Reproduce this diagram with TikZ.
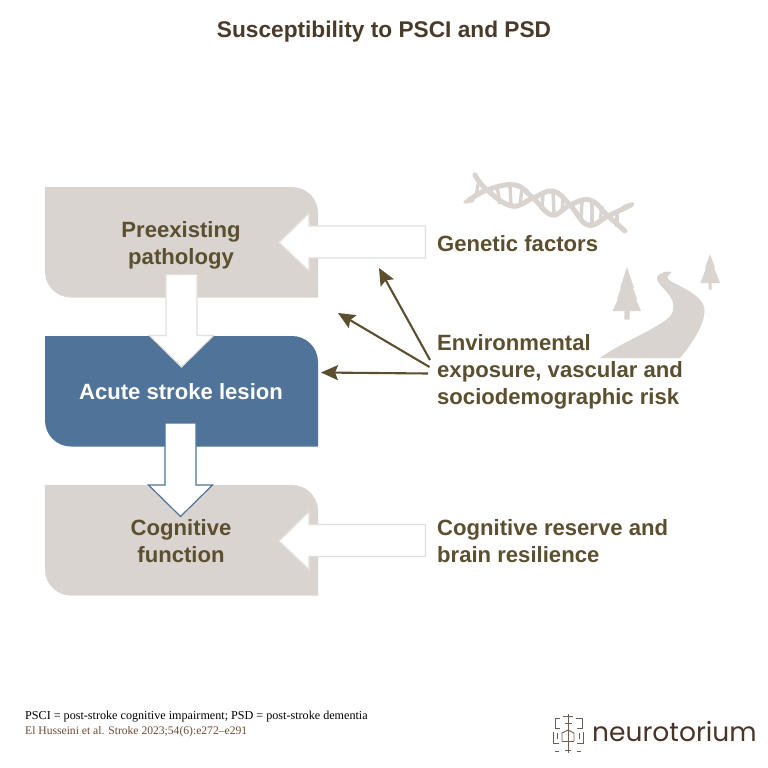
\documentclass[tikz,border=0pt]{standalone}
\usepackage{fontspec}
\setmainfont{Liberation Sans}
\newfontfamily\notefont{Liberation Serif}
\newfontfamily\brandfont{Poppins}
\usetikzlibrary{arrows.meta}
\definecolor{stone}{HTML}{D9D4CF}
\definecolor{stoneline}{HTML}{E3DFDB}
\definecolor{lesion}{HTML}{4F7399}
\definecolor{umber}{HTML}{5C4F30}
\definecolor{headline}{HTML}{4A3A2A}
\definecolor{refnote}{HTML}{6A4A35}
\definecolor{brand}{HTML}{4A3428}
\tikzset{
  label text/.style={font=\bfseries\fontsize{22.1}{27}\selectfont,text=umber,inner sep=0pt,align=left,anchor=west},
  box text/.style={font=\bfseries\fontsize{22.1}{27}\selectfont,text=umber,inner sep=0pt,align=center},
  note text/.style={font=\notefont\fontsize{12.13}{14}\selectfont,inner sep=0pt,anchor=base west},
  influence/.style={draw=umber,line width=2.1pt,-{Stealth[length=17pt,width=15pt,inset=3pt]}},
  helix/.style={draw=stone,line width=5pt,line cap=round},
  rung/.style={draw=stone,line width=3.4pt},
  crest/.style={draw=brand!80,line width=0.9pt},
}
% block with two opposite rounded corners, width 273, height 110
\newcommand{\softblock}[3]{%
  \begin{scope}[shift={(#1,#2)}]
  \fill[#3] (0,0) -- (247,0) .. controls (261.4,0) and (273,11.6) .. (273,26)
    -- (273,110.5) -- (26,110.5) .. controls (11.6,110.5) and (0,98.9) .. (0,84.5) -- cycle;
  \end{scope}}
% broad arrow pointing left from its tip
\newcommand{\broadleft}[2]{%
  \draw[fill=white,draw=stoneline,line width=1.2pt,line join=miter] (#1) -- ++(30,-29.5) -- ++(0,13) -- ++(116.5,0)
    -- ++(0,32) -- ++(-116.5,0) -- ++(0,13) -- cycle;}
% broad arrow pointing down from its tip
\newcommand{\broaddown}[3]{%
  \draw[fill=white,draw=#2,line width=1.2pt,line join=miter] (#1) -- ++(-32,-31.5) -- ++(16.5,0) -- ++(0,-#3)
    -- ++(31,0) -- ++(0,#3) -- ++(16.5,0) -- cycle;}
\begin{document}
\begin{tikzpicture}[x=1pt,y=-1pt]
\useasboundingbox (0,0) rectangle (768,768);
\fill[white] (0,0) rectangle (768,768);

\node[font=\bfseries\fontsize{22.7}{26}\selectfont,text=headline,inner sep=0pt] (title) at (384,31.8) {Susceptibility to PSCI and PSD};

% stacked blocks
\softblock{45}{187}{stone}
\softblock{45}{336}{lesion}
\softblock{45}{485}{stone}

% broad arrows
\coordinate (geneticTip) at (279,242.5);
\coordinate (reserveTip) at (279,541);
\coordinate (lesionTip) at (181.5,367);
\coordinate (functionTip) at (180.5,516.5);
\broadleft{geneticTip}{stoneline}
\broadleft{reserveTip}{stoneline}
\broaddown{lesionTip}{stoneline}{61}
\broaddown{functionTip}{lesion}{62}

% block labels
\node[box text] (preexisting) at (181,245) {Preexisting\\pathology};
\node[box text,text=white] (acute) at (181,392) {Acute stroke lesion};
\node[box text] (cognitive) at (181,541) {Cognitive\\function};

% factor labels
\node[label text] (genetic) at (437,243.5) {Genetic factors};
\node[label text] (environment) at (437,372) {Environmental\\exposure, vascular and\\sociodemographic risk};
\node[label text] (reserve) at (437,541) {Cognitive reserve and\\brain resilience};

% influences of the environmental factors
\coordinate (envA) at (430,360);
\coordinate (envB) at (429.5,367);
\coordinate (envC) at (428,373.5);
\coordinate (onGenetic) at (379,268);
\coordinate (onPathology) at (338,313);
\coordinate (onLesion) at (321,372.5);
\draw[influence] (envA) -- (onGenetic);
\draw[influence] (envB) -- (onPathology);
\draw[influence] (envC) -- (onLesion);

% double helix
\draw[helix] plot[smooth,tension=.7] coordinates {(475,175) (487,190) (512,206) (533,198) (553,191) (570,205) (588,225) (608,216) (631,205)};
\draw[helix] plot[smooth,tension=.7] coordinates {(468,201) (487,190) (515,185) (533,198) (552,215) (570,205) (590,200) (608,216) (625,231)};
\draw[helix,line width=3.4pt] (473,200.5) -- (465,202);
\draw[helix,line width=3.4pt] (624,206.5) -- (633,204);
\foreach \xa/\ya/\xb/\yb in {497/186/500/204, 510/185/511/206, 522/188/520/205, 543/193/542/210, 553/191/554/214, 563/199/562/212, 582/202/581/220, 592/200/592/225, 602/206/600/221, 617/212/617/227, 479/180/476/196}
  \draw[rung] (\xa,\ya) -- (\xb,\yb);

% trees
\fill[stone] (627,267) -- (634,288) -- (633,288) -- (637,299) -- (636,299) -- (641,311) -- (629.6,311) -- (629.6,319.5) -- (624.4,319.5)
  -- (624.4,311) -- (612.5,311) -- (618,299) -- (617,299) -- (621,288) -- (620,288) -- cycle;
\fill[stone] (710,254) -- (715,268) -- (714,268) -- (720,283) -- (711.5,283) -- (711.5,289.5) -- (708.5,289.5)
  -- (708.5,283) -- (700.5,283) -- (706,268) -- (705,268) -- cycle;

% winding road
\fill[stone] (600,358) .. controls (618,345) and (640,336) .. (653,328)
  .. controls (665,321) and (676,316) .. (673,303) .. controls (671,292) and (656,285) .. (657,277)
  .. controls (660,272) and (667,271) .. (672,272) .. controls (668,275) and (666,278) .. (669,280)
  .. controls (680,287) and (706,296) .. (704.5,312) .. controls (704,325) and (692,344) .. (680,358) -- cycle;

% footnotes
\node[note text] (abbrev) at (25,719) {PSCI = post-stroke cognitive impairment; PSD = post-stroke dementia};
\node[note text,text=refnote,font=\notefont\fontsize{11.6}{14}\selectfont] (source) at (25,734.5) {El Husseini et al. Stroke 2023;54(6):e272–e291};

% brand mark
\draw[crest] (568,714) -- (568,753);
\draw[crest] (563,716) -- (573,716) (565,723) -- (572,723);
\draw[crest] (560,718) -- (555,718) -- (555,728) -- (560,728);
\draw[crest] (576,718) -- (582,718) -- (582,728) -- (577,728);
\draw[crest] (568,730) -- (562,733) -- (562,741) (568,730) -- (574,733) -- (574,741);
\draw[crest] (553,732) -- (553,743) -- (559,743) (583,732) -- (583,743) -- (577,743);
\draw[crest] (562,741) -- (574,741);
\draw[crest] (557,733) -- (557,739) (579,733) -- (579,739);
\draw[crest] (555,751) -- (559,751) (577,751) -- (581,751) (565,750) -- (571,750);
\node[font=\brandfont\fontsize{26.5}{32}\selectfont,text=brand,inner sep=0pt,anchor=base west] (brandname) at (592,741.5) {neurotorium};
\end{tikzpicture}
\end{document}
